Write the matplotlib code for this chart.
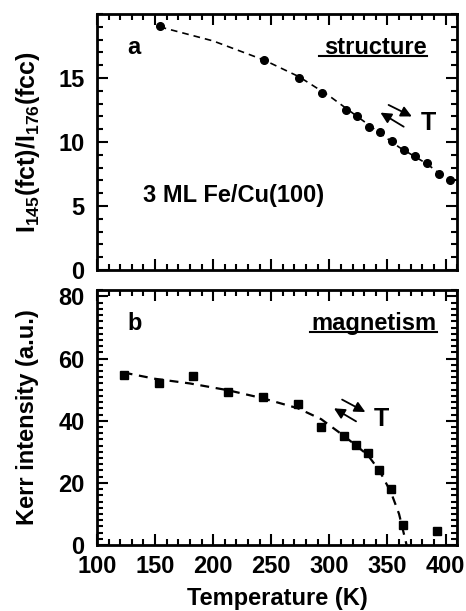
import numpy as np
import matplotlib
matplotlib.use("Agg")
import matplotlib.pyplot as plt
from matplotlib.ticker import MultipleLocator

plt.rcParams['font.family'] = ['Liberation Sans', 'DejaVu Sans']
plt.rcParams['font.weight'] = 'bold'
plt.rcParams['axes.labelweight'] = 'bold'
plt.rcParams['mathtext.fontset'] = 'custom'
plt.rcParams['mathtext.rm'] = 'Liberation Sans:bold'
plt.rcParams['mathtext.it'] = 'Liberation Sans:bold'
plt.rcParams['mathtext.bf'] = 'Liberation Sans:bold'

# panel a: structure (LEED intensity ratio)
temp_a = [154, 244, 274, 294, 314, 324, 334, 344, 354, 364, 374, 384, 394, 404]
ratio_a = [19.1, 16.4, 15.0, 13.8, 12.5, 12.0, 11.15, 10.8, 10.1, 9.4, 8.9, 8.4, 7.5, 7.0]
# dashed guide curve
guide_ta = [154, 200, 244, 274, 300, 330, 360, 384, 394]
guide_ra = [19.0, 17.9, 16.4, 15.1, 13.6, 11.6, 9.6, 8.3, 7.6]

# panel b: magnetism (Kerr intensity)
temp_b = [123, 153, 183, 213, 243, 273, 293, 313, 323, 333, 343, 353, 363, 393]
kerr_b = [54.8, 52.2, 54.5, 49.4, 47.6, 45.4, 38.1, 35.2, 32.1, 29.5, 24.0, 18.0, 6.5, 4.6]
guide_tb = [123, 150, 180, 213, 243, 273, 293, 313, 323, 333, 343, 353, 360, 366.5]
guide_kb = [55.5, 53.5, 52.0, 49.8, 47.2, 44.0, 40.5, 35.0, 32.0, 29.0, 24.0, 17.0, 10.0, 0.0]

x_ticks = [100, 150, 200, 250, 300, 350, 400]


def style_axis(ax, ymajor, yminor):
    ax.set_xlim(100, 410)
    ax.xaxis.set_major_locator(MultipleLocator(50))
    ax.xaxis.set_minor_locator(MultipleLocator(10))
    ax.yaxis.set_major_locator(MultipleLocator(ymajor))
    ax.yaxis.set_minor_locator(MultipleLocator(yminor))
    ax.tick_params(which='both', direction='in', top=True, right=True,
                   width=1.5, labelsize=17)
    ax.tick_params(axis='y', pad=9)
    ax.tick_params(axis='x', pad=7)
    ax.tick_params(which='major', length=8)
    ax.tick_params(which='minor', length=4)
    for s in ax.spines.values():
        s.set_linewidth(2)


def double_arrow(ax, start1, end1, start2, end2):
    for s, e in ((start1, end1), (start2, end2)):
        ax.annotate('', xy=e, xytext=s,
                    arrowprops=dict(arrowstyle='-|>', color='black', lw=1.3,
                                    mutation_scale=16, shrinkA=0, shrinkB=0))


fig = plt.figure(figsize=(4.66, 6.11), dpi=100)
ax1 = fig.add_axes([0.208, 0.558, 0.773, 0.419])
ax2 = fig.add_axes([0.208, 0.108, 0.773, 0.417])

# panel a
ax1.plot(guide_ta, guide_ra, ls=(0, (4, 3)), color='black', lw=1.2)
ax1.plot(temp_a, ratio_a, 'o', color='black', ms=5.5)
style_axis(ax1, 5, 1)
ax1.set_ylim(0, 20)
ax1.set_yticks([0, 5, 10, 15])
ax1.tick_params(axis='x', labelbottom=False)
ax1.set_ylabel(r'I$_{145}$(fct)/I$_{176}$(fcc)', fontsize=18, labelpad=12)
ax1.text(0.083, 0.87, 'a', transform=ax1.transAxes, fontsize=17,
         fontweight='bold', va='center')
ax1.text(0.917, 0.87, 'structure', transform=ax1.transAxes, fontsize=17,
         fontweight='bold', va='center', ha='right')
ax1.plot([0.617, 0.917], [0.838, 0.838], transform=ax1.transAxes,
         color='black', lw=1.5)
ax1.text(0.128, 0.29, '3 ML Fe/Cu(100)', transform=ax1.transAxes,
         fontsize=17, fontweight='bold', va='center')
double_arrow(ax1, (351, 12.9), (371, 12.0), (364, 11.2), (344, 12.3))
ax1.text(385, 11.5, 'T', fontsize=18, fontweight='bold', va='center', ha='center')

# panel b
ax2.plot(guide_tb, guide_kb, ls=(0, (4, 3)), color='black', lw=1.6)
ax2.plot(temp_b, kerr_b, 's', color='black', ms=6)
style_axis(ax2, 20, 2)
ax2.set_ylim(0, 82)
ax2.set_xticks(x_ticks)
ax2.set_ylabel('Kerr intensity (a.u.)', fontsize=17, labelpad=14)
ax2.set_xlabel('Temperature (K)', fontsize=17, labelpad=7)
ax2.text(0.086, 0.87, 'b', transform=ax2.transAxes, fontsize=17,
         fontweight='bold', va='center')
ax2.text(0.944, 0.87, 'magnetism', transform=ax2.transAxes, fontsize=17,
         fontweight='bold', va='center', ha='right')
ax2.plot([0.592, 0.944], [0.838, 0.838], transform=ax2.transAxes,
         color='black', lw=1.5)
double_arrow(ax2, (311, 46.8), (331, 42.8), (323, 39.8), (304, 44.0))
ax2.text(345, 40.6, 'T', fontsize=18, fontweight='bold', va='center', ha='center')

fig.savefig('out.png', dpi=100)
